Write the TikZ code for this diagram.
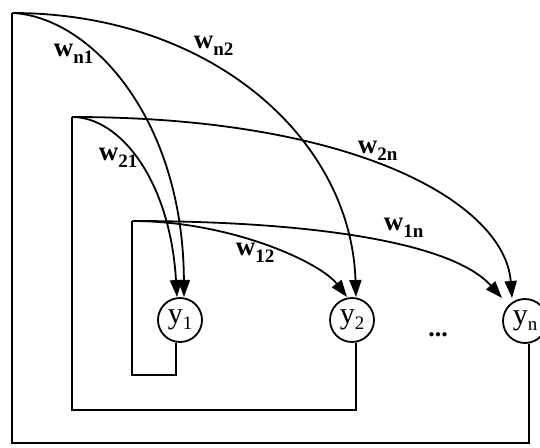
\documentclass[tikz,border=0pt]{standalone}
\usepackage{fontspec}
\setmainfont{Liberation Serif}
\usetikzlibrary{arrows.meta,calc}
\newcommand\wlab[1]{{\fontsize{27}{27}\selectfont\bfseries w}\raisebox{-7pt}{\fontsize{19}{19}\selectfont\bfseries #1}}
\newcommand\ylab[1]{{\fontsize{30}{30}\selectfont y}\raisebox{-6pt}{\fontsize{19}{19}\selectfont #1}}
\begin{document}
\begin{tikzpicture}[x=1pt,y=-1pt,
  line width=1.8pt,
  neuron/.style={circle,draw,minimum size=44pt,inner sep=0pt},
  arc/.style={-{Triangle[length=17pt,width=12pt]}},
  wl/.style={anchor=base west,inner sep=0pt}]
\useasboundingbox (0,0) rectangle (540,447);
\fill[white] (0,0) rectangle (540,447);
% neurons
\node[neuron] (y1) at (180,320) {\ylab{1}};
\node[neuron] (y2) at (352,320) {\ylab{2}};
\node[neuron] (yn) at (525,321) {\ylab{n}};
\node[anchor=base,inner sep=0pt] (dots) at (438,336) {\fontsize{26}{26}\selectfont\bfseries ...};
% corners of the feedback loops
\coordinate (A) at (12,13);
\coordinate (Ab) at (12,443);
\coordinate (B) at (72,117);
\coordinate (Bb) at (72,410);
\coordinate (C) at (132,221);
\coordinate (Cb) at (132,375);
% feedback loops
\draw (yn.280) |- (Ab) -- (A);
\draw (y2.280) |- (Bb) -- (B);
\draw (y1.260) |- (Cb) -- (C);
% weighted connections
\draw[arc] (A) .. controls (88,16) and (183,115) .. ($(y1)+(4,-23)$);
\draw[arc] (A) .. controls (210,13) and (351,138) .. ($(y2)+(4,-23)$);
\draw[arc] (B) .. controls (120,117) and (170,180) .. ($(y1)+(-3,-23)$);
\draw[arc] (B) .. controls (360,117) and (505,205) .. ($(yn)+(-13,-23)$);
\draw[arc] (C) .. controls (230,221) and (320,262) .. ($(y2)+(-5,-23)$);
\draw[arc] (C) .. controls (300,221) and (450,240) .. ($(yn)+(-23,-23)$);
% labels
\node[wl] (ln1) at (53,56) {\wlab{n1}};
\node[wl] (ln2) at (193,48) {\wlab{n2}};
\node[wl] (l21) at (98,160) {\wlab{21}};
\node[wl] (l2n) at (357,153) {\wlab{2n}};
\node[wl] (l12) at (235,255) {\wlab{12}};
\node[wl] (l1n) at (383,230) {\wlab{1n}};
\end{tikzpicture}
\end{document}
